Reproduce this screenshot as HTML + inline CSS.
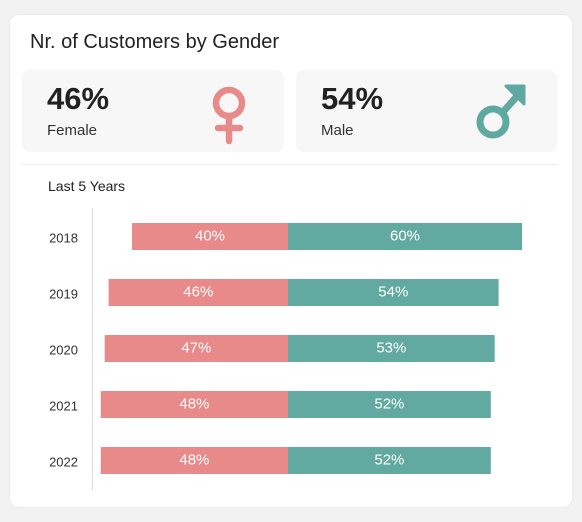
<!DOCTYPE html>
<html><head><meta charset="utf-8"><style>
body{margin:0;width:582px;height:522px;background:#f2f2f2;font-family:"Liberation Sans",sans-serif;position:relative;overflow:hidden}
.card{position:absolute;left:10px;top:15px;width:562px;height:492px;background:#fff;border-radius:9px;box-shadow:0 0 2px rgba(0,0,0,.08)}
.title{position:absolute;left:30px;top:31px;font-size:20px;color:#222}
.tile{position:absolute;top:70px;height:82px;background:#f7f7f7;border-radius:8px}
.big{position:absolute;left:25px;top:11px;font-size:31px;font-weight:bold;color:#222}
.lab{position:absolute;left:25px;top:52px;font-size:15px;color:#333}
.div{position:absolute;left:22px;top:164px;width:535px;height:1px;background:#ececec}
.sub{position:absolute;left:48px;top:178px;font-size:14px;color:#222}
</style></head><body>
<div class="card"></div>
<div class="title">Nr. of Customers by Gender</div>
<div class="tile" style="left:22px;width:262px">
 <div class="big">46%</div>
 <div class="lab">Female</div>
 <svg style="position:absolute;left:180px;top:8px" width="60" height="70">
  <circle cx="27" cy="25" r="13" fill="none" stroke="#e88a89" stroke-width="6.5"/>
  <line x1="27" y1="40" x2="27" y2="63" stroke="#e88a89" stroke-width="6.5" stroke-linecap="round"/>
  <line x1="16" y1="50" x2="38" y2="50" stroke="#e88a89" stroke-width="6.5" stroke-linecap="round"/>
 </svg>
</div>
<div class="tile" style="left:296px;width:261px">
 <div class="big">54%</div>
 <div class="lab">Male</div>
 <svg style="position:absolute;left:170px;top:8px" width="70" height="70">
  <circle cx="27" cy="44" r="13" fill="none" stroke="#5fa9a0" stroke-width="7"/>
  <line x1="37" y1="34" x2="53" y2="16" stroke="#5fa9a0" stroke-width="7" stroke-linecap="round"/>
  <polygon points="58,8 58,26 40,8" fill="#5fa9a0" stroke="#5fa9a0" stroke-width="3" stroke-linejoin="round"/>
 </svg>
</div>
<div class="div"></div>
<div class="sub">Last 5 Years</div>
<svg id="chart" style="position:absolute;left:0;top:0" width="582" height="522"></svg>
<script>
const years=["2018","2019","2020","2021","2022"];
const female=[40,46,47,48,48];
const male=[60,54,53,52,52];
const NS="http://www.w3.org/2000/svg";
const svg=document.getElementById('chart');
const cx=288, k=3.9;
function xF(v){return cx-v*k;}
function xM(v){return cx+v*k;}
function yC(i){return 236.5+i*56;}
function mk(t,a){const e=document.createElementNS(NS,t);for(const n in a)e.setAttribute(n,a[n]);svg.appendChild(e);return e;}
const ax=mk('line',{x1:92.5,x2:92.5,y1:208,y2:490,stroke:'#d6dde3','stroke-width':1});


years.forEach((y,i)=>{
 const c=yC(i);
 const t=mk('text',{x:78,y:c+6,'text-anchor':'end','font-size':13,fill:'#333','font-family':'Liberation Sans, sans-serif'});
 t.textContent=y;
 
 
 const bf=mk('rect',{x:xF(female[i]),y:c-13.5,width:cx-xF(female[i]),height:27,fill:'#e88a89'});
 
 
 const bm=mk('rect',{x:cx,y:c-13.5,width:xM(male[i])-cx,height:27,fill:'#62aaa1'});
 
 
 const lf=mk('text',{x:(xF(female[i])+cx)/2,y:c+4,'text-anchor':'middle','font-size':15,fill:'#fff','font-family':'Liberation Sans, sans-serif'});
 lf.textContent=female[i]+'%';
 
 
 const lm=mk('text',{x:(xM(male[i])+cx)/2,y:c+4,'text-anchor':'middle','font-size':15,fill:'#fff','font-family':'Liberation Sans, sans-serif'});
 lm.textContent=male[i]+'%';
 
 
});
</script>
</body></html>
